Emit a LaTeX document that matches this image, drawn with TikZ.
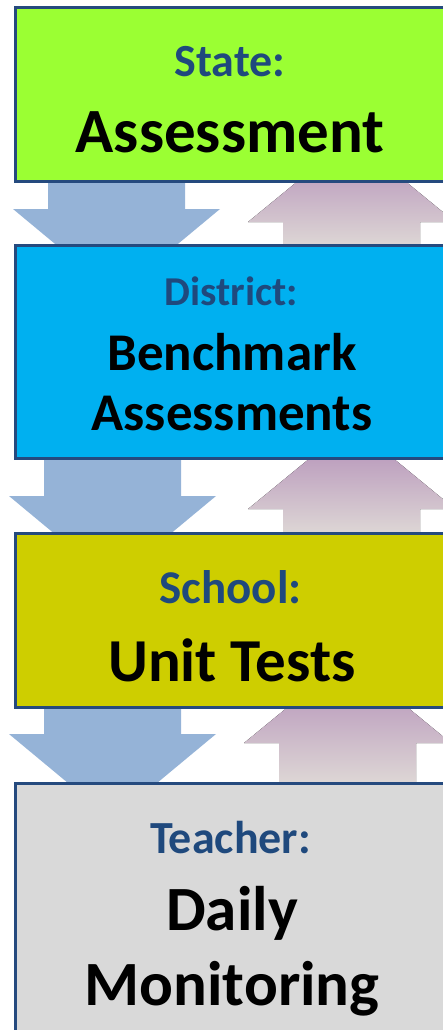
\documentclass[tikz,border=0pt]{standalone}
\usepackage{fontspec}
\setmainfont{Carlito}
\usetikzlibrary{backgrounds,positioning}

\definecolor{stategreen}{RGB}{155,255,51}
\definecolor{districtblue}{RGB}{0,176,240}
\definecolor{schoololive}{RGB}{206,206,0}
\definecolor{teachergray}{RGB}{217,217,217}
\definecolor{frameblue}{RGB}{37,74,126}
\definecolor{headblue}{RGB}{31,73,125}
\definecolor{downblue}{RGB}{149,179,215}
\definecolor{uptop}{RGB}{175,136,181}
\definecolor{upbottom}{RGB}{224,219,215}

\begin{document}
\begin{tikzpicture}[x=1pt,y=-1pt,
                    tier/.style={draw=frameblue, line width=3pt, minimum width=431.5pt, inner sep=0pt},
                    levelname/.style={anchor=base, inner sep=0pt, text=headblue, font={\bfseries\fontsize{#1}{#1}\selectfont}},
                    levelwork/.style={anchor=base, inner sep=0pt, text=black, font={\bfseries\fontsize{#1}{#1}\selectfont}},
                    downfill/.style={fill=downblue},
                    upfill/.style={top color=uptop, bottom color=upbottom}]
    \useasboundingbox (0,0) rectangle (443,1030);

    % the four levels
    \node[tier, fill=stategreen, minimum height=174pt] (state) at (231.25,94.5) {};
    \node[tier, fill=districtblue, minimum height=213pt] (district) at (231.25,352) {};
    \node[tier, fill=schoololive, minimum height=174pt] (school) at (231.25,620.5) {};
    \node[tier, fill=teachergray, minimum height=261.5pt] (teacher) at (231.25,914.25) {};

    \node[levelname=46] (statename) at (230,77) {State:};
    \node[levelwork=63] (statework) at (230,152) {Assessment};
    \node[levelname=41] (districtname) at (231.5,305) {District:};
    \node[levelwork=53] (districtwork) at (232,370) {Benchmark};
    \node[levelwork=53] (districtwork2) at (232,430) {Assessments};
    \node[levelname=47] (schoolname) at (230.5,603) {School:};
    \node[levelwork=61] (schoolwork) at (232,681) {Unit Tests};
    \node[levelname=46] (teachername) at (230.5,853) {Teacher:};
    \node[levelwork=63] (teacherwork) at (232,930) {Daily};
    \node[levelwork=63] (teacherwork2) at (232,1005) {Monitoring};

    % arrows behind the boxes
    \begin{scope}[on background layer]
        \coordinate (down1) at ([xshift=-114.75pt]state.south);
        \coordinate (down2) at ([xshift=-118.75pt]district.south);
        \coordinate (down3) at ([xshift=-118.75pt]school.south);
        \coordinate (up1) at ([xshift=120.25pt]district.north);
        \coordinate (up2) at ([xshift=120.25pt]school.north);
        \coordinate (up3) at ([xshift=116.25pt]teacher.north);

        \fill[downfill, shift={(down1)}] (-68.5,-10) -- (68.5,-10) -- (68.5,26) -- (103.5,26)
            -- (0,112) -- (-103.5,26) -- (-68.5,26) -- cycle;
        \fill[downfill, shift={(down2)}] (-68.5,-10) -- (68.5,-10) -- (68.5,36) -- (103.5,36)
            -- (0,122) -- (-103.5,36) -- (-68.5,36) -- cycle;
        \fill[downfill, shift={(down3)}] (-68.5,-10) -- (68.5,-10) -- (68.5,25) -- (103.5,25)
            -- (0,111) -- (-103.5,25) -- (-68.5,25) -- cycle;

        \fill[upfill, shift={(up1)}] (-68.5,8) -- (68.5,8) -- (68.5,-22) -- (103.5,-22)
            -- (0,-107) -- (-103.5,-22) -- (-68.5,-22) -- cycle;
        \fill[upfill, shift={(up2)}] (-68.5,8) -- (68.5,8) -- (68.5,-23) -- (103.5,-23)
            -- (0,-108) -- (-103.5,-23) -- (-68.5,-23) -- cycle;
        \fill[upfill, shift={(up3)}] (-68.5,8) -- (68.5,8) -- (68.5,-39) -- (103.5,-39)
            -- (0,-124) -- (-103.5,-39) -- (-68.5,-39) -- cycle;
    \end{scope}
\end{tikzpicture}
\end{document}
